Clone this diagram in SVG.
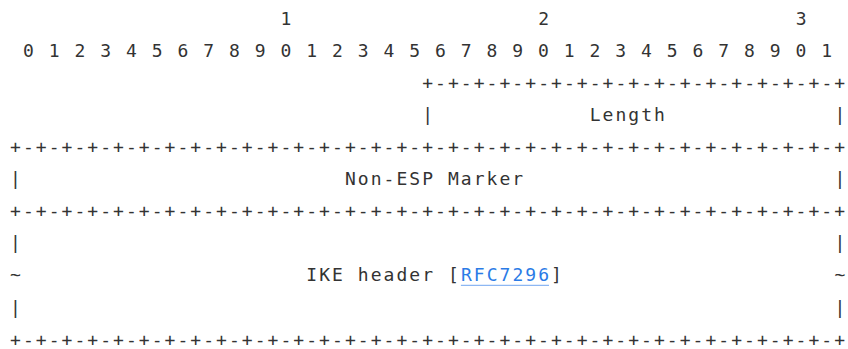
<svg xmlns="http://www.w3.org/2000/svg" width="848" height="349" viewBox="0 0 848 349">
<style>
text{font-family:"DejaVu Sans Mono","Liberation Mono",monospace;font-size:18px;letter-spacing:2.04px;fill:#333;white-space:pre}
.link{fill:#2b7be6}
.ul{stroke:#8db7f3;stroke-width:1.2}
</style>
<rect width="848" height="349" fill="#fff"/>
<g id="ruler">
<text x="280.56" y="24.6">1</text>
<text x="538.16" y="24.6">2</text>
<text x="795.76" y="24.6">3</text>
<text x="22.96" y="56.7">0 1 2 3 4 5 6 7 8 9 0 1 2 3 4 5 6 7 8 9 0 1 2 3 4 5 6 7 8 9 0 1</text>
</g>
<g id="borders">
<text x="422.24" y="88.8">+-+-+-+-+-+-+-+-+-+-+-+-+-+-+-+-+</text>
<text x="10.08" y="153.0">+-+-+-+-+-+-+-+-+-+-+-+-+-+-+-+-+-+-+-+-+-+-+-+-+-+-+-+-+-+-+-+-+</text>
<text x="10.08" y="217.2">+-+-+-+-+-+-+-+-+-+-+-+-+-+-+-+-+-+-+-+-+-+-+-+-+-+-+-+-+-+-+-+-+</text>
<text x="10.08" y="345.6">+-+-+-+-+-+-+-+-+-+-+-+-+-+-+-+-+-+-+-+-+-+-+-+-+-+-+-+-+-+-+-+-+</text>
</g>
<g id="length">
<text x="422.24" y="120.9">|</text>
<text x="589.68" y="120.9">Length</text>
<text x="834.4" y="120.9">|</text>
</g>
<g id="non-esp-marker">
<text x="10.08" y="185.1">|</text>
<text x="344.96" y="185.1">Non-ESP Marker</text>
<text x="834.4" y="185.1">|</text>
</g>
<g id="ike-header">
<text x="10.08" y="249.3">|</text>
<text x="834.4" y="249.3">|</text>
<text x="10.08" y="281.4">~</text>
<text x="306.32" y="281.4">IKE header [</text>
<text class="link" x="460.88" y="281.4">RFC7296</text>
<line class="ul" x1="460.9" y1="285.4" x2="549.0" y2="285.4"/>
<text x="551.04" y="281.4">]</text>
<text x="834.4" y="281.4">~</text>
<text x="10.08" y="313.5">|</text>
<text x="834.4" y="313.5">|</text>
</g>
</svg>
